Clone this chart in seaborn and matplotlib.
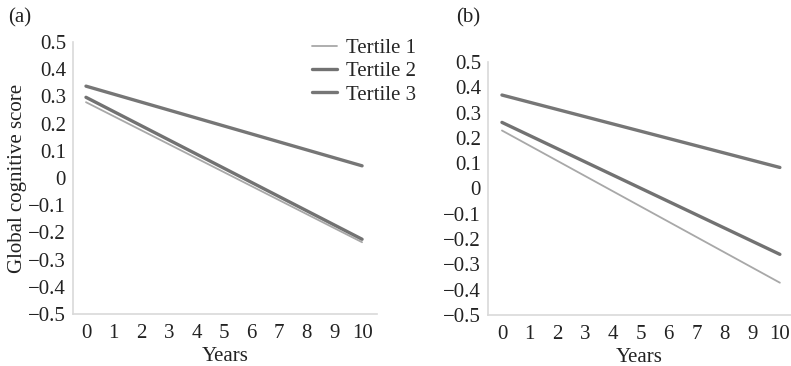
import matplotlib
matplotlib.use("Agg")
import matplotlib.pyplot as plt
import seaborn as sns
import pandas as pd

years = [0, 10]
series_names = ["Tertile 1", "Tertile 2", "Tertile 3"]
a_t1 = [0.279, -0.236]
a_t2 = [0.297, -0.225]
a_t3 = [0.338, 0.045]
b_t1 = [0.229, -0.372]
b_t2 = [0.261, -0.260]
b_t3 = [0.369, 0.083]
x_ticks = list(range(0, 11))
y_ticks = [-0.5, -0.4, -0.3, -0.2, -0.1, 0, 0.1, 0.2, 0.3, 0.4, 0.5]
y_tick_labels = ["\u22120.5", "\u22120.4", "\u22120.3", "\u22120.2", "\u22120.1", "0",
                 "0.1", "0.2", "0.3", "0.4", "0.5"]

sns.set_theme(style="white")
plt.rcParams["font.family"] = ["Liberation Serif", "DejaVu Serif"]

FS = 15

def make_df(t1, t2, t3):
    rows = []
    for name, vals in zip(series_names, [t1, t2, t3]):
        for x, v in zip(years, vals):
            rows.append({"Years": x, "score": v, "series": name})
    return pd.DataFrame(rows)

palette = {"Tertile 1": "#a8a8a8", "Tertile 2": "#727272", "Tertile 3": "#767676"}
sizes = {"Tertile 1": 1.3, "Tertile 2": 2.4, "Tertile 3": 2.4}

fig = plt.figure(figsize=(7.91, 3.66), dpi=100)
ax_a = fig.add_axes([0.0923, 0.142, 0.3843, 0.743])
ax_b = fig.add_axes([0.617, 0.139, 0.383, 0.692])

for ax, (t1, t2, t3) in [(ax_a, (a_t1, a_t2, a_t3)), (ax_b, (b_t1, b_t2, b_t3))]:
    df = make_df(t1, t2, t3)
    sns.lineplot(data=df, x="Years", y="score", hue="series", size="series",
                 palette=palette, sizes=sizes, ax=ax, legend=False)
    ax.set_ylim(-0.5, 0.5)
    ax.set_yticks(y_ticks)
    ax.set_yticklabels(y_tick_labels)
    ax.set_xticks(x_ticks)
    ax.tick_params(axis="both", labelsize=FS, length=0, colors="#222222")
    ax.tick_params(axis="y", pad=5)
    ax.tick_params(axis="x", pad=7)
    for s in ["top", "right"]:
        ax.spines[s].set_visible(False)
    for s in ["left", "bottom"]:
        ax.spines[s].set_color("#d9d9d9")
        ax.spines[s].set_linewidth(1.2)
    ax.set_xlabel("Years", fontsize=FS, labelpad=3, color="#222222")

ax_a.set_xlim(-0.47, 10.54)
ax_b.set_xlim(-0.5, 10.4)
ax_a.set_ylabel("Global cognitive score", fontsize=FS, labelpad=1, color="#222222")
ax_b.set_ylabel("")

from matplotlib.lines import Line2D
handles = [Line2D([], [], color=palette[n], lw=sizes[n]) for n in series_names]
fig.legend(handles, series_names, loc="upper left", bbox_to_anchor=(0.395, 0.895),
           frameon=False, fontsize=FS, handlelength=1.2, handletextpad=0.4,
           labelspacing=0.18, borderpad=0, borderaxespad=0)

fig.text(0.010, 0.952, "(a)", fontsize=FS, va="center", color="#222222")
fig.text(0.577, 0.952, "(b)", fontsize=FS, va="center", color="#222222")

fig.savefig("out.png", dpi=100)
